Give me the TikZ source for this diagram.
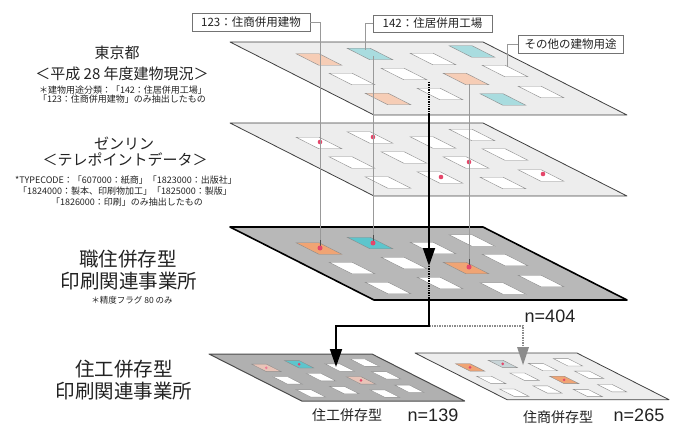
\documentclass[tikz,border=0pt]{standalone}
\usepackage{fontspec}
\setmainfont{Noto Sans CJK JP}
\newfontfamily\arialf{Liberation Sans}
\usetikzlibrary{arrows.meta}
\definecolor{peach}{HTML}{F6CDB6}
\definecolor{lcyan}{HTML}{A9DCDF}
\definecolor{sorange}{HTML}{F0A474}
\definecolor{scyan}{HTML}{5DC5CC}
\definecolor{pinkc}{HTML}{E9C4B8}
\definecolor{greyblue}{HTML}{C9D5D8}
\definecolor{dotc}{HTML}{E5466A}
\definecolor{txt}{HTML}{222222}
\begin{document}
\begin{tikzpicture}[x=1pt,y=-1pt,
  lightplane/.style={fill=black!7,draw=black!75,line width=0.8pt,line join=round},
  darkplane/.style={fill=black!28,draw=black,line width=1.6pt,line join=round},
  midplane/.style={fill=black!31,draw=black!70,line width=1pt,line join=round},
  cellbox/.style={draw=black!45,line width=0.4pt},
  lbl/.style={inner sep=0pt,text=txt,anchor=center},
  tagbox/.style={draw=black!55,fill=white,line width=0.5pt,inner sep=0pt,text=txt,font=\fontsize{11.5}{12}\selectfont,minimum height=18pt},
  leader/.style={draw=black!40,line width=0.5pt},
  blk/.style={draw=black,line width=1.8pt},
  tipb/.style={-{Triangle[length=18pt,width=12pt]}},
]
\useasboundingbox (0,0) rectangle (675,425);
\newcommand{\cellat}[3]{\draw[cellbox,fill=#3] (#1,#2) ++(-22.85,-5.75) -- ++(23,0) -- ++(22.7,11.5) -- ++(-23,0) -- cycle;}

% ---------- bottom right plane (住商) ----------
\begin{scope}[shift={(415,353)},scale=0.64]
  \draw[lightplane] (0,0) -- (253,0) -- (397,73) -- (144,73) -- cycle;
  \begin{scope}[shift={(-3,5)}]
  \foreach \x/\y/\c in {89/17.5/sorange,140/12/greyblue,203/17/white,242/9.5/white,
     122/37/white,174/32/white,236/37/sorange,275/29/white,
     158/57/white,210/52/white,273/57.5/white,311/50/white}{\cellat{\x}{\y}{\c}}
  \fill[dotc] (89,17.5) circle (2.3);
  \fill[dotc] (140,12) circle (2.3);
  \fill[dotc] (236,37) circle (2.3);
  \end{scope}
\end{scope}

% ---------- bottom left plane (住工) ----------
\begin{scope}[shift={(209,354)},scale=0.644]
  \draw[midplane] (0,0) -- (253,0) -- (397,73) -- (144,73) -- cycle;
  \begin{scope}[shift={(0,4)}]
  \foreach \x/\y/\c in {89/17.5/pinkc,140/12/scyan,203/17/white,242/9.5/white,
     122/37/white,174/32/white,236/37/pinkc,275/29/white,
     158/57/white,210/52/white,273/57.5/white,311/50/white}{\cellat{\x}{\y}{\c}}
  \fill[dotc!70] (89,17.5) circle (2.2);
  \fill[dotc] (140,12) circle (2.3);
  \fill[dotc] (236,37) circle (2.3);
  \end{scope}
\end{scope}

% ---------- connectors to the bottom planes ----------
\coordinate (a3) at (429,301);
\coordinate (a4) at (429,326);
\coordinate (aL) at (336,367);
\coordinate (aR) at (523,365);
\draw[draw=black!45,line width=1.5pt,densely dotted] (a4) -| ([yshift=8pt]aR);
\fill[black!45] (aR) -- ++(-6,-18) -- ++(12,0) -- cycle;
\draw[blk,tipb] (a3) -- (a4) -| (aL);

% ---------- plane 3 (職住併存型) ----------
\begin{scope}[shift={(230,227)}]
  \draw[darkplane] (0,0) -- (253,0) -- (397,73) -- (144,73) -- cycle;
  \begin{scope}[shift={(0,4)}]
  \foreach \x/\y/\c in {89/17.5/sorange,140/12/scyan,203/17/white,242/9.5/white,
     122/37/white,174/32/white,236/37/sorange,275/29/white,
     158/57/white,210/52/white,273/57.5/white,311/50/white}{\cellat{\x}{\y}{\c}}
  \end{scope}
\end{scope}

% ---------- plane 2 (ゼンリン) ----------
\begin{scope}[shift={(230,123)}]
  \draw[lightplane] (0,0) -- (253,0) -- (397,73) -- (144,73) -- cycle;
  \begin{scope}[shift={(0,2.5)}]
  \foreach \x/\y/\c in {89/17.5/white,140/12/white,203/17/white,242/9.5/white,
     122/37/white,174/32/white,236/37/white,275/29/white,
     158/57/white,210/52/white,273/57.5/white,311/50/white}{\cellat{\x}{\y}{\c}}
  \end{scope}
\end{scope}
\fill[dotc] (320,142) circle (2.3);
\fill[dotc] (373,137) circle (2.3);
\fill[dotc] (469,162) circle (2.3);
\fill[dotc] (441,177) circle (2.3);
\fill[dotc] (543,174) circle (2.3);

% ---------- plane 1 (東京都) ----------
\begin{scope}[shift={(230,42)}]
  \draw[lightplane] (0,0) -- (253,0) -- (397,73) -- (144,73) -- cycle;
  \foreach \x/\y/\c in {89/17.5/peach,140/12/lcyan,203/17/white,242/9.5/lcyan,
     122/37/white,174/32/white,236/37/peach,275/29/white,
     158/57/peach,210/52/white,273/57.5/lcyan,311/50/white}{\cellat{\x}{\y}{\c}}
\end{scope}

% ---------- tag boxes ----------
\node[tagbox,minimum width=118pt] (b123) at (251,22) {123：住商併用建物};
\node[tagbox,minimum width=119pt,minimum height=17pt] (b142) at (432.5,23.5) {142：住居併用工場};
\node[tagbox,minimum width=105pt] (bso) at (570.5,44) {その他の建物用途};

% ---------- thin vertical leaders ----------
\coordinate (dA3) at (320,248);
\coordinate (cB1top) at (365,50);
\coordinate (cB1) at (373,56);
\coordinate (dB3) at (373,243);
\coordinate (c23) at (469,84);
\coordinate (d233) at (469,267);
\coordinate (c24top) at (507,67);
\draw[leader] (b123.east) -| (dA3);
\draw[leader] (b142.west) -| (cB1top);
\draw[leader] (cB1) -- (dB3);
\draw[leader] (c23) -- (d233);
\draw[leader] (bso.west) -| (c24top);
\draw[black!70,line width=0.8pt] (320,240) -- (dA3);
\draw[black!70,line width=0.8pt] (373,235) -- (dB3);
\draw[black!70,line width=0.8pt] (469,259) -- (d233);
\fill[dotc] (dA3) circle (2.5);
\fill[dotc] (dB3) circle (2.5);
\fill[dotc] (d233) circle (2.5);

% ---------- main black arrow ----------
\coordinate (a0) at (429,82);
\coordinate (a1) at (429,115);
\coordinate (a2) at (429,266);
\draw[black,line width=1.4pt,densely dotted] (a0) -- (a1);
\draw[blk,tipb] (a1) -- (a2);
\draw[black,line width=1.4pt,densely dotted] (a2) -- (a3);

% ---------- left texts ----------
\node[lbl,font=\fontsize{15}{15}\selectfont] (t1) at (117,53) {東京都};
\node[lbl,font=\fontsize{15}{15}\selectfont] (t2) at (122,73.5) {＜平成 28 年度建物現況＞};
\node[lbl,font=\fontsize{9}{9}\selectfont] (t3) at (123,90) {＊建物用途分類：「142：住居併用工場」};
\node[lbl,font=\fontsize{9}{9}\selectfont] (t4) at (122,99) {「123：住商併用建物」のみ抽出したもの};

\node[lbl,font=\fontsize{15}{15}\selectfont] (t5) at (124,144) {ゼンリン};
\node[lbl,font=\fontsize{15}{15}\selectfont] (t6) at (125,160) {＜テレポイントデータ＞};
\node[lbl,font=\fontsize{9}{9}\selectfont] (t7) at (126,180) {*TYPECODE：「607000：紙商」「1823000：出版社」};
\node[lbl,font=\fontsize{9}{9}\selectfont] (t8) at (125,191) {「1824000：製本、印刷物加工」「1825000：製版」};
\node[lbl,font=\fontsize{9}{9}\selectfont] (t9) at (127,202) {「1826000：印刷」のみ抽出したもの};

\node[lbl,font=\fontsize{19.5}{19.5}\selectfont] (t10) at (128,259) {職住併存型};
\node[lbl,font=\fontsize{19.5}{19.5}\selectfont] (t11) at (129,281) {印刷関連事業所};
\node[lbl,font=\fontsize{8.5}{8.5}\selectfont] (t12) at (132,300) {＊精度フラグ 80 のみ};

\node[lbl,font=\fontsize{19.5}{19.5}\selectfont] (t13) at (124,369) {住工併存型};
\node[lbl,font=\fontsize{19.5}{19.5}\selectfont] (t14) at (124,391) {印刷関連事業所};

% ---------- counts ----------
\node[lbl,font=\arialf\fontsize{18}{18}\selectfont] (n404) at (550,316) {n=404};
\node[lbl,font=\fontsize{14}{14}\selectfont] (t15) at (347,415) {住工併存型};
\node[lbl,font=\arialf\fontsize{18}{18}\selectfont] (n139) at (433,415) {n=139};
\node[lbl,font=\fontsize{14}{14}\selectfont] (t16) at (558,417) {住商併存型};
\node[lbl,font=\arialf\fontsize{18}{18}\selectfont] (n265) at (639,415) {n=265};
\end{tikzpicture}
\end{document}
